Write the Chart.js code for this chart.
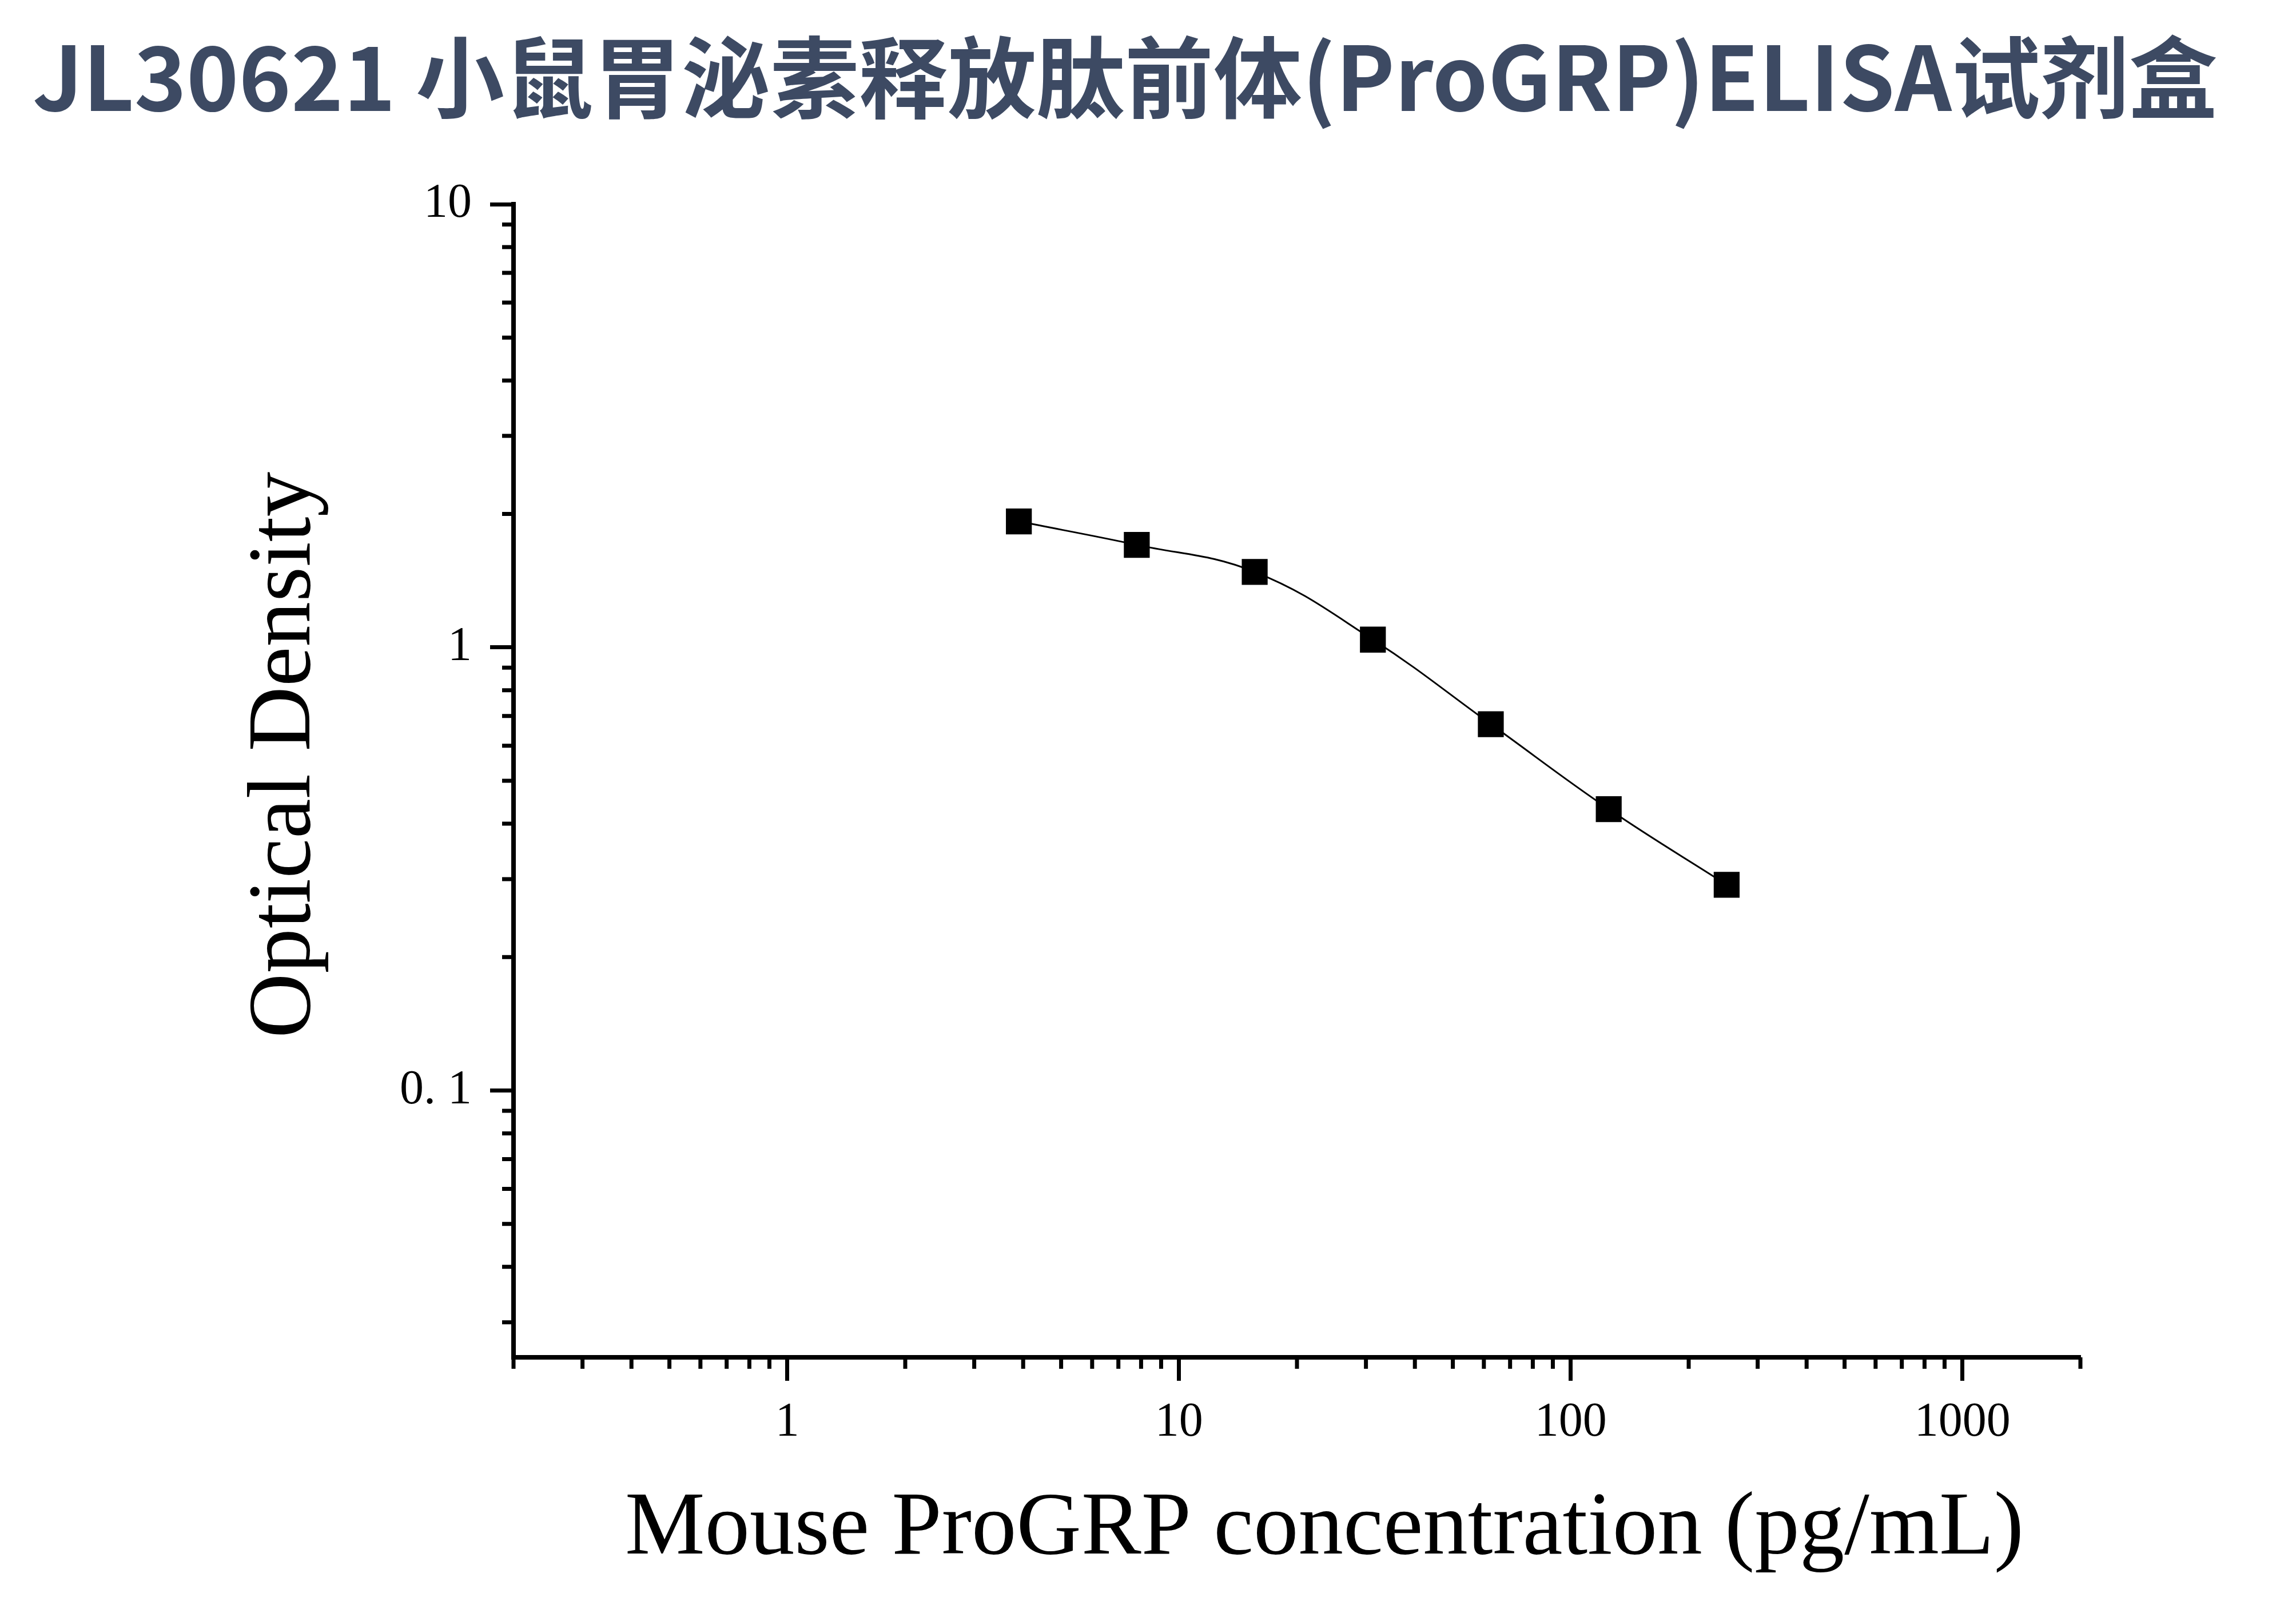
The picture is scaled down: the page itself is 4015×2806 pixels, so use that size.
<!DOCTYPE html>
<html>
<head>
<meta charset="utf-8">
<script src="https://cdn.jsdelivr.net/npm/chart.js@4.4.1/dist/chart.umd.min.js"></script>
<style>
  html, body { margin: 0; padding: 0; background: #fff; }
  canvas { display: block; }
</style>
</head>
<body>
<canvas id="myChart" width="4015" height="2806"></canvas>
<script>
// standard curve: concentration (pg/mL) vs optical density
const concentrations = [3.9, 7.8, 15.6, 31.25, 62.5, 125, 250];
const odValues = [1.924, 1.703, 1.48, 1.041, 0.671, 0.4315, 0.2913];

// axis ticks (log scales)
const xMajorTicks = [1, 10, 100, 1000];
const xTickLabels = ['1', '10', '100', '1000'];
const xMinorTicks = [0.2, 0.3, 0.4, 0.5, 0.6, 0.7, 0.8, 0.9,
                     2, 3, 4, 5, 6, 7, 8, 9,
                     20, 30, 40, 50, 60, 70, 80, 90,
                     200, 300, 400, 500, 600, 700, 800, 900, 2000];
const yMajorTicks = [0.1, 1, 10];
const yTickLabels = ['0. 1', '1', '10'];
const yMinorTicks = [0.03, 0.04, 0.05, 0.06, 0.07, 0.08, 0.09,
                     0.2, 0.3, 0.4, 0.5, 0.6, 0.7, 0.8, 0.9,
                     2, 3, 4, 5, 6, 7, 8, 9];

const chartTitle = 'JL30621 小鼠胃泌素释放肽前体(ProGRP)ELISA试剂盒';
const xTitle = 'Mouse ProGRP concentration (pg/mL)';
const yTitle = 'Optical Density';

const serif = '"Liberation Serif", "Times New Roman", serif';

// short minor ticks, drawn on top of the axes
const minorTicks = {
    id: 'minorTicks',
    afterDraw(chart) {
        const c = chart.ctx;
        const xs = chart.scales.x;
        const ys = chart.scales.y;
        c.save();
        c.strokeStyle = '#000';
        c.lineWidth = 7;
        c.beginPath();
        xMinorTicks.forEach(v => {
            const px = xs.getPixelForValue(v);
            c.moveTo(px, xs.top);
            c.lineTo(px, xs.top + 20);
        });
        yMinorTicks.forEach(v => {
            const py = ys.getPixelForValue(v);
            c.moveTo(ys.right, py);
            c.lineTo(ys.right - 20, py);
        });
        c.stroke();
        c.restore();
    }
};

// page title and axis titles (placed a little off-centre like the original)
const labels = {
    id: 'labels',
    afterDraw(chart) {
        const c = chart.ctx;
        const area = chart.chartArea;
        c.save();
        c.font = 'bold 155px "Noto Sans CJK SC", "Noto Sans", sans-serif';
        c.fillStyle = '#3d4a63';
        c.textAlign = 'left';
        c.textBaseline = 'alphabetic';
        c.fillText(chartTitle, 57, 194);

        c.font = '157px ' + serif;
        c.fillStyle = '#000';
        c.textAlign = 'center';
        c.textBaseline = 'middle';
        c.fillText(xTitle, (area.left + area.right) / 2 + 48, 2675);

        c.translate(500, (area.top + area.bottom) / 2 - 45);
        c.rotate(-Math.PI / 2);
        c.fillText(yTitle, 0, 0);
        c.restore();
    }
};

const ctx = document.getElementById('myChart').getContext('2d');
const myChart = new Chart(ctx, {
    type: 'line',
    data: {
        datasets: [{
            data: concentrations.map((x, i) => ({ x: x, y: odValues[i] })),
            borderColor: '#000',
            borderWidth: 3,
            tension: 0.4,
            pointStyle: 'rect',
            pointRadius: 32,
            pointBackgroundColor: '#000',
            pointBorderWidth: 0,
            fill: false
        }]
    },
    options: {
        responsive: false,
        devicePixelRatio: 1,
        animation: false,
        layout: {
            padding: { left: 57, right: 377, top: 357, bottom: 0 }
        },
        plugins: {
            legend: { display: false },
            tooltip: { enabled: false },
            title: { display: false }
        },
        scales: {
            x: {
                type: 'logarithmic',
                position: 'bottom',
                min: 0.2,
                max: 2000,
                afterBuildTicks: scale => {
                    scale.ticks = xMinorTicks.concat(xMajorTicks).sort((a, b) => a - b).map(v => ({ value: v }));
                },
                afterFit: scale => { scale.height = 433; },
                border: { display: true, color: '#000', width: 8 },
                grid: {
                    drawOnChartArea: false,
                    tickLength: 41,
                    tickWidth: 7,
                    tickColor: c => xMajorTicks.includes(c.tick && c.tick.value) ? '#000' : 'rgba(0,0,0,0)'
                },
                ticks: {
                    autoSkip: false,
                    maxRotation: 0,
                    padding: 32,
                    color: '#000',
                    font: { family: serif, size: 84, lineHeight: 1 },
                    callback: value => {
                        const i = xMajorTicks.indexOf(value);
                        return i >= 0 ? xTickLabels[i] : '';
                    }
                },
                title: { display: false }
            },
            y: {
                type: 'logarithmic',
                position: 'left',
                min: 0.025,
                max: 10,
                afterBuildTicks: scale => {
                    scale.ticks = yMinorTicks.concat(yMajorTicks).sort((a, b) => a - b).map(v => ({ value: v }));
                },
                afterFit: scale => { scale.width = 841; },
                border: { display: true, color: '#000', width: 8 },
                grid: {
                    drawOnChartArea: false,
                    tickLength: 41,
                    tickWidth: 7,
                    tickColor: c => yMajorTicks.includes(c.tick && c.tick.value) ? '#000' : 'rgba(0,0,0,0)'
                },
                ticks: {
                    autoSkip: false,
                    padding: 32,
                    color: '#000',
                    font: { family: serif, size: 84, lineHeight: 1 },
                    callback: value => {
                        const i = yMajorTicks.indexOf(value);
                        return i >= 0 ? yTickLabels[i] : '';
                    }
                },
                title: { display: false }
            }
        }
    },
    plugins: [minorTicks, labels]
});
</script>
</body>
</html>
